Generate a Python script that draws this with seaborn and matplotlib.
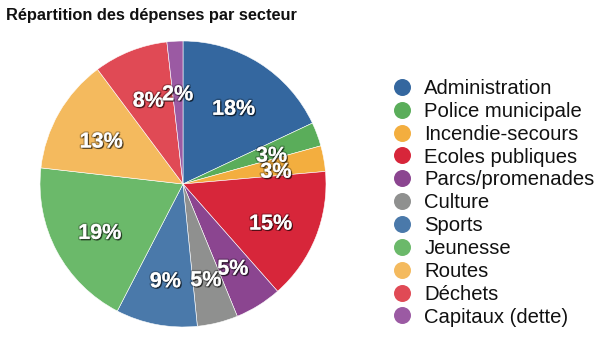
import matplotlib
matplotlib.use("Agg")
import matplotlib.pyplot as plt
import matplotlib.patheffects as pe
import matplotlib.transforms as mtransforms
from matplotlib.lines import Line2D
import seaborn as sns

categories = ["Administration", "Police municipale", "Incendie-secours", "Ecoles publiques",
              "Parcs/promenades", "Culture", "Sports", "Jeunesse", "Routes", "Déchets",
              "Capitaux (dette)"]
values = [18.0, 2.7, 2.9, 14.9, 5.3, 4.6, 9.2, 19.2, 13.0, 8.4, 1.8]
colors = ["#34679f", "#5aad5a", "#f3ae3f", "#d7263a", "#8b4590", "#8f908f",
          "#4a79aa", "#6bb96a", "#f4ba5e", "#e04a55", "#9b5aa3"]
title = "Répartition des dépenses par secteur"

sns.set_theme(style="white")
plt.rcParams['font.family'] = ['Liberation Sans', 'DejaVu Sans']

fig = plt.figure(figsize=(6.07, 3.57), dpi=100)
W, H = 607, 357
cx, cy, r = 183, 184, 143
ax = fig.add_axes([(cx - r) / W, (H - cy - r) / H, 2 * r / W, 2 * r / H])

wedges, texts, autotexts = ax.pie(
    values, colors=colors, startangle=90, counterclock=False,
    autopct=lambda p: f"{p:.0f}%", pctdistance=0.66,
    wedgeprops=dict(edgecolor="white", linewidth=0.4),
    textprops=dict(color="white", fontsize=15.5, fontweight="bold"))
shift = mtransforms.ScaledTranslation(0, -2.5 / 100, fig.dpi_scale_trans)
for t in autotexts:
    t.set_va("center_baseline")
    t.set_transform(t.get_transform() + shift)
    t.set_path_effects([
        pe.withSimplePatchShadow(offset=(1, -1), shadow_rgbFace="black", alpha=0.55),
        pe.Stroke(linewidth=2.0, foreground=(0, 0, 0, 0.25)),
        pe.Normal()])
ax.set_xlim(-1, 1)
ax.set_ylim(-1, 1)
ax.set_aspect("auto")
ax.axis("off")

fig.text(6 / W, 1 - 20 / H, title, fontsize=11.75, fontweight="bold", color="#111111",
         ha="left", va="baseline")

handles = [Line2D([], [], marker="o", linestyle="none", markersize=11.2,
                  markerfacecolor=c, markeredgecolor=c) for c in colors]
leg = fig.legend(handles, categories, loc="upper left",
                 bbox_to_anchor=(392 / W, 1 - 79 / H), frameon=False,
                 fontsize=14.6, labelspacing=0.19, handletextpad=0.6,
                 handlelength=1.0, borderpad=0, borderaxespad=0)
for t in leg.get_texts():
    t.set_color("#111111")

fig.savefig("out.png", dpi=100)
